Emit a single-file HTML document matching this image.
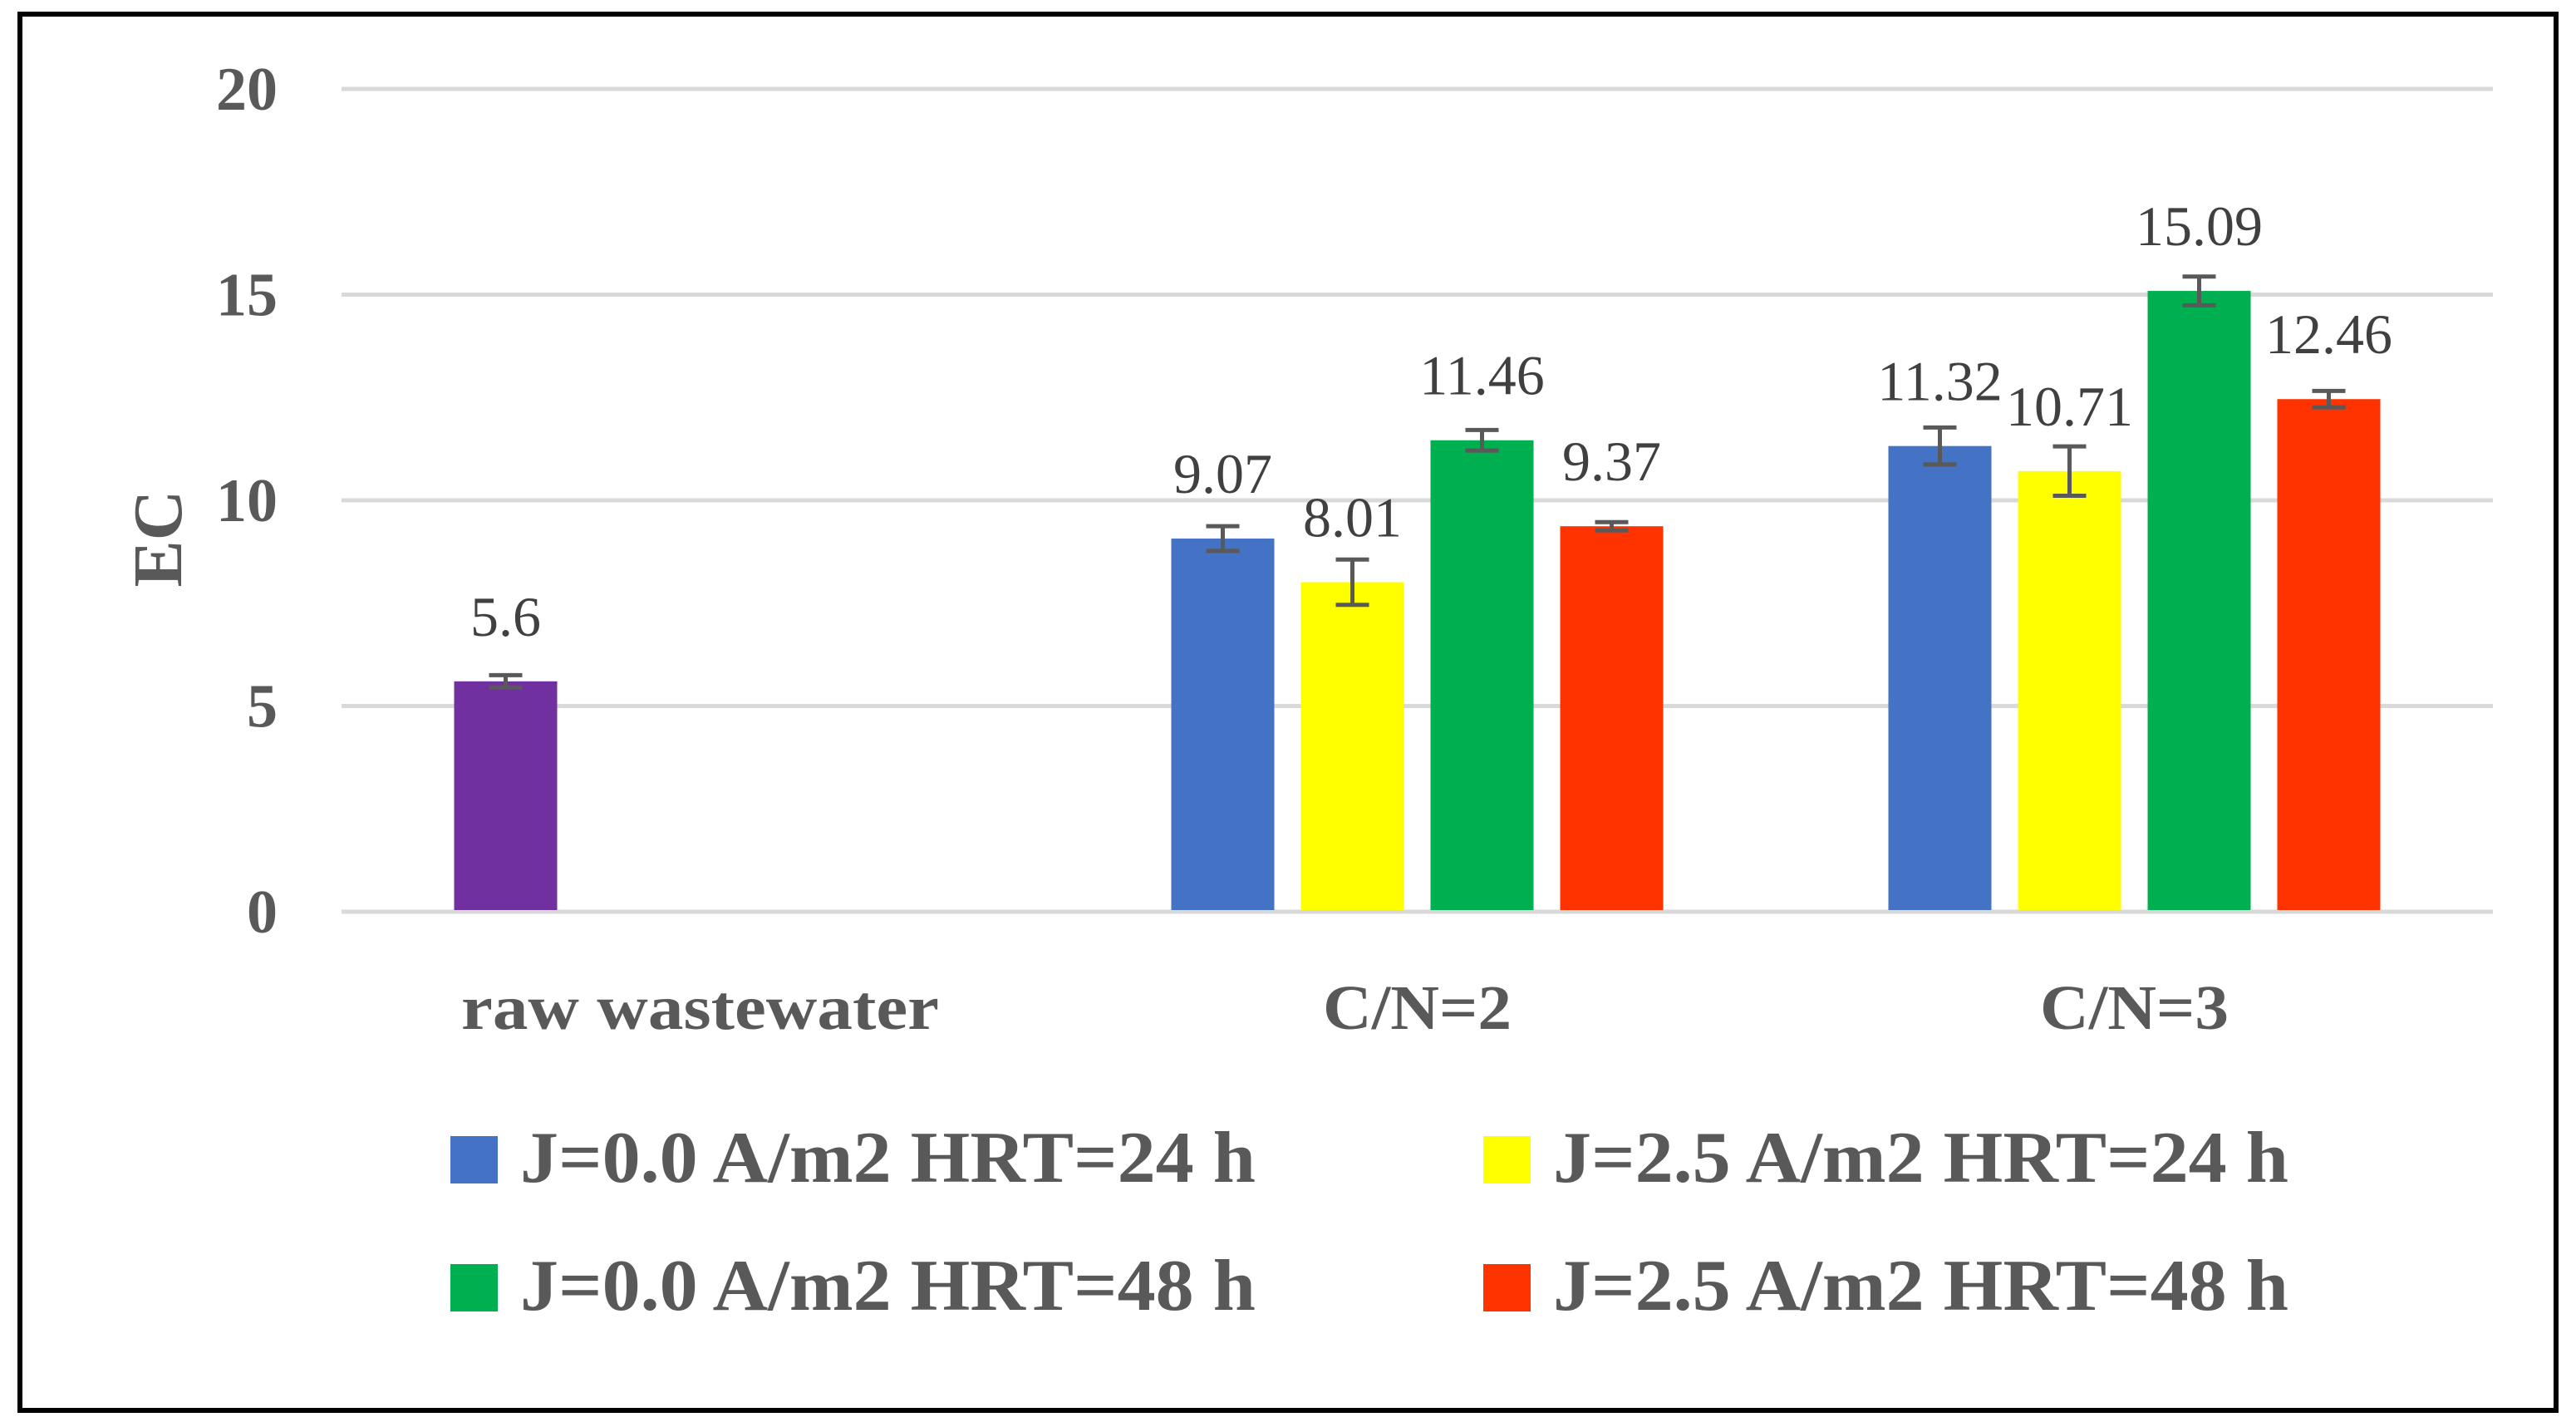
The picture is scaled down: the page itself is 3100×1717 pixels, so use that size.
<!DOCTYPE html>
<html><head><meta charset="utf-8"><style>
html,body{margin:0;padding:0;background:#fff;}
svg{display:block;font-family:"Liberation Serif",serif;}
</style></head><body>
<svg id="chart" width="3100" height="1717" viewBox="0 0 3100 1717" xmlns="http://www.w3.org/2000/svg">
<rect x="24" y="17" width="3052" height="1680" fill="#fff" stroke="#000" stroke-width="6"/>
<g id="grid"></g>
<g id="bars"></g>
<g id="labels"></g>
<text transform="translate(218,648) rotate(-90)" text-anchor="middle" font-size="84" font-weight="bold" fill="#595959">EC</text>
<g id="legend"></g>
</svg>
<script>
const categories = ["raw wastewater", "C/N=2", "C/N=3"];
const seriesNames = ["J=0.0 A/m2 HRT=24 h", "J=2.5 A/m2 HRT=24 h", "J=0.0 A/m2 HRT=48 h", "J=2.5 A/m2 HRT=48 h"];
const seriesColors = ["#4472c4", "#ffff00", "#00b050", "#ff3300"];
const rawValue = [5.6];
const rawError = [0.15];
const s1Values = [null, 9.07, 11.32];
const s2Values = [null, 8.01, 10.71];
const s3Values = [null, 11.46, 15.09];
const s4Values = [null, 9.37, 12.46];
const s1Errors = [null, 0.3, 0.45];
const s2Errors = [null, 0.55, 0.6];
const s3Errors = [null, 0.25, 0.35];
const s4Errors = [null, 0.1, 0.2];
const yTicks = [0, 5, 10, 15, 20];

const NS = "http://www.w3.org/2000/svg";
const X0 = 411, X1 = 3000, Y0 = 1097, Y20 = 107;
const yScale = v => Y0 - (v / 20) * (Y0 - Y20);
const catW = (X1 - X0) / categories.length;
const barW = 124, step = 156;
const xBar = (ci, si) => X0 + catW * ci + catW / 2 + (si - 1.5) * step - barW / 2;
function mk(tag, attrs, parent) { const e = document.createElementNS(NS, tag); for (const k in attrs) e.setAttribute(k, attrs[k]); parent.appendChild(e); return e; }
const grid = document.getElementById('grid'), bars = document.getElementById('bars'), labels = document.getElementById('labels'), legend = document.getElementById('legend');

yTicks.forEach(t => {
  const y = yScale(t);
  const l = mk('line', {x1: X0, x2: X1, y1: y, y2: y, stroke: '#d9d9d9', 'stroke-width': 5}, grid);
  
  
  const tx = mk('text', {x: 334, y: y + 25, 'text-anchor': 'end', 'font-size': 74, 'font-weight': 'bold', fill: '#595959'}, grid);
  tx.textContent = t;
  
  
});

categories.forEach((c, ci) => {
  const tx = mk('text', {x: X0 + catW * ci + catW / 2, y: 1238, 'text-anchor': 'middle', 'font-size': 76, 'font-weight': 'bold', fill: '#595959', textLength: ci === 0 ? 575 : 227, lengthAdjust: 'spacingAndGlyphs'}, labels);
  tx.textContent = c;
  
  
});

function drawBar(ci, si, v, err, color) {
  const x = xBar(ci, si), y = yScale(v);
  const r = mk('rect', {x: x, y: y, width: barW, height: Y0 - y - 2, fill: color}, bars);
  
  
  const cx = x + barW / 2, ya = yScale(v + err), yb = yScale(v - err);
  const e = mk('path', {d: `M${cx},${ya}V${yb}M${cx-20},${ya}H${cx+20}M${cx-20},${yb}H${cx+20}`, stroke: '#595959', 'stroke-width': 5, fill: 'none'}, bars);
  
  
  const tx = mk('text', {x: cx, y: y - 55, 'text-anchor': 'middle', 'font-size': 68, fill: '#404040'}, labels);
  tx.textContent = String(v);
  
  
}
drawBar(0, 0, rawValue[0], rawError[0], '#7030a0');
const allVals = [s1Values, s2Values, s3Values, s4Values];
const allErrs = [s1Errors, s2Errors, s3Errors, s4Errors];
allVals.forEach((arr, si) => arr.forEach((v, ci) => { if (v !== null) drawBar(ci, si, v, allErrs[si][ci], seriesColors[si]); }));

const legPos = [[542, 1367], [1785, 1367], [542, 1521], [1785, 1521]];
seriesNames.forEach((n, i) => {
  const [lx, ly] = legPos[i];
  const g = mk('g', {}, legend);
  
  
  mk('rect', {x: lx, y: ly, width: 57, height: 57, fill: seriesColors[i]}, g);
  const tx = mk('text', {x: lx + 84, y: ly + 55, 'font-size': 88, 'font-weight': 'bold', fill: '#595959', textLength: 885, lengthAdjust: 'spacingAndGlyphs'}, g);
  tx.textContent = n;
});
</script>
</body></html>
